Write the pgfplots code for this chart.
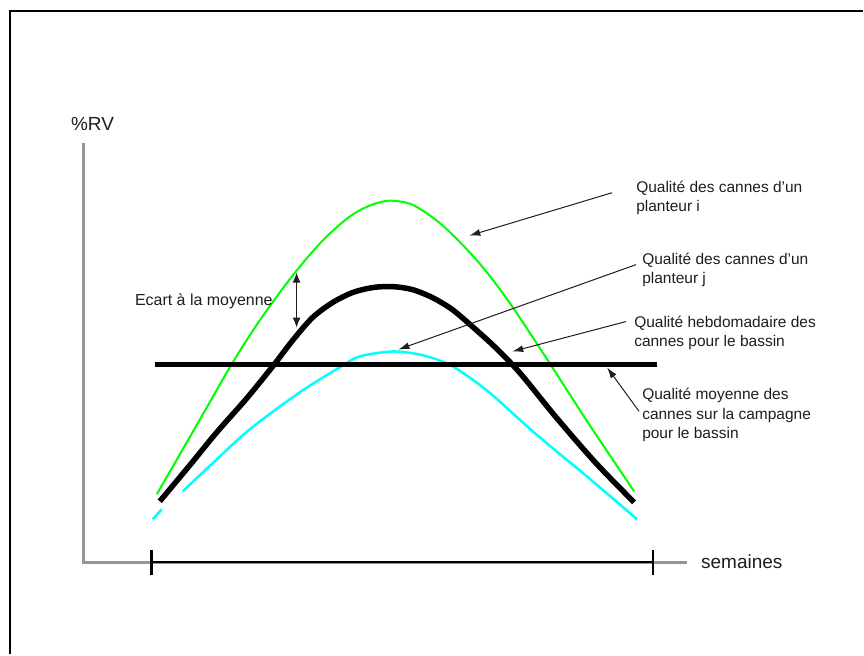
\documentclass[border=0pt]{standalone}
\usepackage{fontspec}
\setmainfont{Liberation Sans}
\usepackage{pgfplots}
\pgfplotsset{compat=1.18}
\usetikzlibrary{arrows.meta}
\definecolor{vert}{RGB}{0,255,0}
\definecolor{cyanclair}{RGB}{0,255,255}
\definecolor{gris}{RGB}{150,150,150}
\definecolor{texte}{RGB}{30,30,30}

\begin{document}
\begin{tikzpicture}
\begin{axis}[
  scale only axis,
  width=864pt, height=655pt,
  xmin=0, xmax=864, ymin=0, ymax=655,
  y dir=reverse,
  hide axis,
  clip=false,
]
\path (axis cs:0,0) rectangle (axis cs:864,655);

% cadre (bords haut et gauche)
\addplot[black, line width=2.5pt] coordinates {(10,655) (10,11) (864,11)};

% axes gris
\addplot[gris, line width=3pt] coordinates {(84,143) (84,563) (688,563)};

% campagne
\addplot[black, line width=2.5pt] coordinates {(152,563) (654,563)};
\addplot[black, line width=2.7pt] coordinates {(152,551) (152,576)};
\addplot[black, line width=2.7pt] coordinates {(654,551) (654,576)};

% planteur i (vert)
\addplot[vert, line width=2pt, smooth, tension=0.5] coordinates {
  (157,495) (183,450) (210,403) (233,363) (260,321) (293,276) (323,241)
  (350,217) (370,206) (390,201) (413,205) (440,223) (465,247) (487,272)
  (513,307) (550,363) (590,425) (635,492)};

% qualite hebdomadaire (cyan)
\addplot[cyanclair, line width=2.5pt] coordinates {(153,520) (162,510)};
\addplot[cyanclair, line width=2.5pt, smooth, tension=0.5] coordinates {
  (183,492) (215,462) (250,430) (300,393) (340,368) (360,357) (393,352)
  (420,355) (443,362) (460,371) (490,393) (537,435) (590,479) (638,520)};

% planteur j (noir epais)
\addplot[black, line width=5.5pt, smooth, tension=0.5] coordinates {
  (160,502) (190,466) (217,433) (247,399) (273,367) (293,341) (313,318)
  (333,303) (353,293) (373,288) (393,287) (413,290) (433,298) (453,310)
  (473,327) (493,345) (513,365) (527,381) (557,418) (597,464) (635,503)};

% moyenne de campagne
\addplot[black, line width=5.5pt] coordinates {(155,365) (658,365)};

% fleches
\draw[texte, line width=1pt, -{Latex[length=11pt,width=7pt]}] (axis cs:613,193) -- (axis cs:470,236);
\draw[texte, line width=1pt, -{Latex[length=11pt,width=7pt]}] (axis cs:637,265) -- (axis cs:399,350);
\draw[texte, line width=1pt, -{Latex[length=11pt,width=7pt]}] (axis cs:627,322) -- (axis cs:513,352);
\draw[texte, line width=1pt, -{Latex[length=11pt,width=7pt]}] (axis cs:640,412) -- (axis cs:608,368);
\draw[texte, line width=1.2pt, {Latex[length=10pt,width=8pt]}-{Latex[length=10pt,width=8pt]}] (axis cs:297,273) -- (axis cs:297,328);

% textes
\tikzset{lbl/.style={anchor=base west, inner sep=0pt, text=texte, font=\fontsize{15.5pt}{19pt}\selectfont}}
\node[lbl] at (axis cs:637,193) {Qualité des cannes d'un};
\node[lbl] at (axis cs:637,212) {planteur i};
\node[lbl] at (axis cs:643,265) {Qualité des cannes d'un};
\node[lbl] at (axis cs:643,284) {planteur j};
\node[lbl] at (axis cs:635,328) {Qualité hebdomadaire des};
\node[lbl] at (axis cs:635,347) {cannes pour le bassin};
\node[lbl] at (axis cs:643,400) {Qualité moyenne des};
\node[lbl] at (axis cs:643,420) {cannes sur la campagne};
\node[lbl] at (axis cs:643,439) {pour le bassin};
\node[lbl, font=\fontsize{16pt}{19pt}\selectfont] at (axis cs:135,306) {Ecart à la moyenne};
\node[lbl, font=\fontsize{19pt}{22pt}\selectfont] at (axis cs:71,131) {\%RV};
\node[lbl, font=\fontsize{19pt}{22pt}\selectfont] at (axis cs:702,569) {semaines};
\end{axis}
\end{tikzpicture}
\end{document}
